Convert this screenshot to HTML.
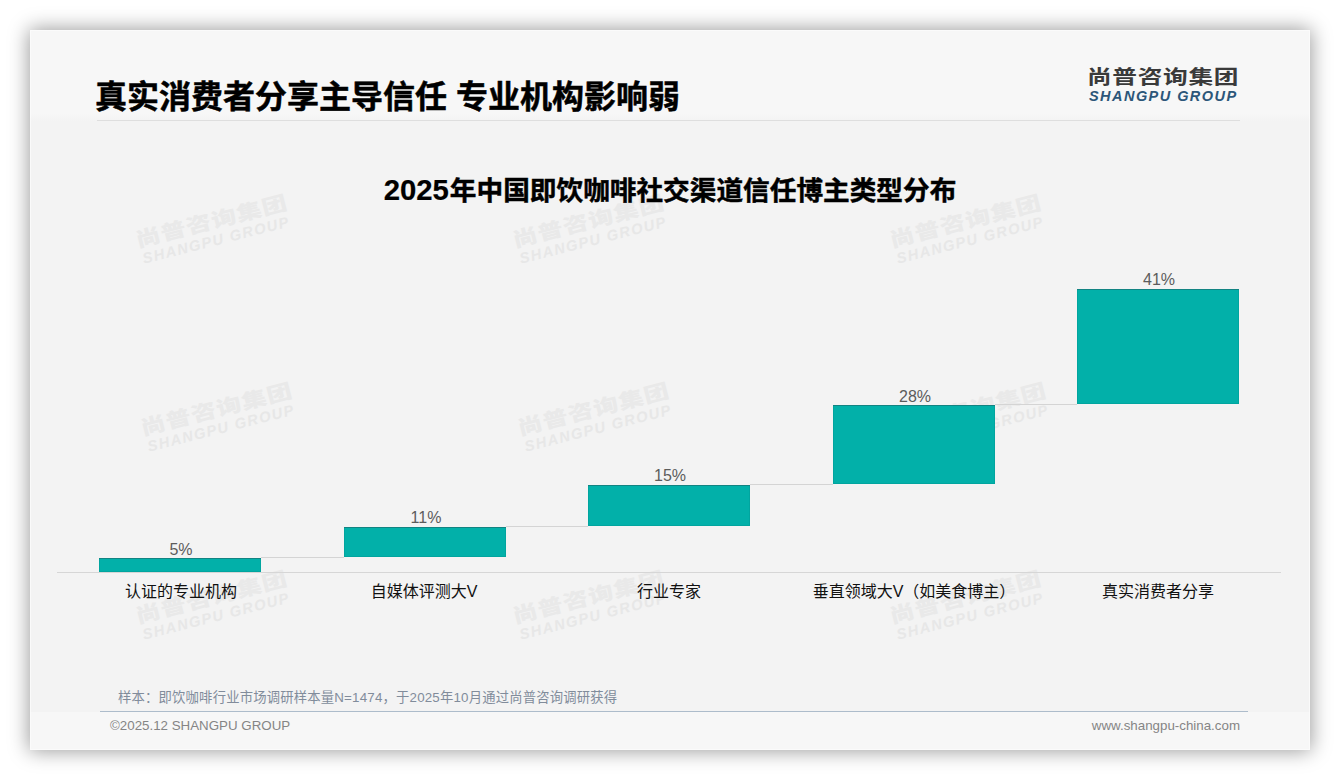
<!DOCTYPE html>
<html lang="zh-CN">
<head>
<meta charset="utf-8">
<title>真实消费者分享主导信任 专业机构影响弱</title>
<style>
*{margin:0;padding:0;box-sizing:border-box}
html,body{width:1340px;height:780px;background:#fff;overflow:hidden}
body{position:relative;font-family:"Liberation Sans","Noto Sans CJK SC",sans-serif;color:#000}
.card{position:absolute;left:30px;top:30px;width:1280px;height:720px;background:#f3f3f3;box-shadow:0 0 19px 1px rgba(0,0,0,.40)}
.clip:after{content:"";position:absolute;left:0;top:0;right:0;bottom:0;border:1px solid rgba(255,255,255,.55);pointer-events:none}
.clip{position:absolute;left:0;top:0;width:1280px;height:720px;overflow:hidden}
.hdr{position:absolute;left:0;top:0;width:1280px;height:92px;background:linear-gradient(#f7f7f7 0,#f7f7f7 84px,#f3f3f3 92px)}
.ftr{position:absolute;left:0;top:682px;width:1280px;height:38px;background:#f7f7f7}
.abs{position:absolute;white-space:nowrap}
.title{left:65px;top:43px;font-size:32px;line-height:48px;font-weight:700;-webkit-text-stroke:.5px #000}
.hrule{left:67px;top:90px;width:1143px;height:1px;background:#dedede}
.logo1{left:1057px;top:33px;font-size:19.6px;line-height:28px;font-weight:700;color:#3a3a3a;letter-spacing:.54px;transform:scaleX(1.26);transform-origin:0 50%}
.logo2{left:1059px;top:56px;font-size:14.5px;line-height:20px;font-weight:700;font-style:italic;color:#2c5679;letter-spacing:1.45px}
.ctitle{left:0;width:1280px;text-align:center;top:140.5px;font-size:26.67px;line-height:40px;font-weight:700;-webkit-text-stroke:.45px #000}
.ctitle span{font-size:29.3px;line-height:20px;margin-right:1px;-webkit-text-stroke:.2px #000}
.bar{position:absolute;background:#02b0a9;box-shadow:inset 0 1px 0 rgba(40,90,95,.45),inset 0 0 0 1px rgba(0,90,90,.12)}
.conn{position:absolute;height:1px;background:#d4d4d4}
.axis{position:absolute;left:27px;top:542px;width:1224px;height:1px;background:#d6d6d6}
.val{position:absolute;width:162px;text-align:center;font-size:16px;line-height:20px;color:#5c5c5c}
.cat{position:absolute;width:244px;text-align:center;font-size:16px;line-height:24px;color:#111}
.note{left:88px;top:657.5px;letter-spacing:.19px;font-size:13.33px;line-height:20px;color:#818c9b}
.fline{left:70px;top:681px;width:1148px;height:1px;background:#adbccb}
.fl{left:80px;top:686px;font-size:13.33px;line-height:20px;color:#858585}
.fr{right:70px;top:686px;font-size:13.33px;line-height:20px;color:#858585}
.wm{position:absolute;width:150px;height:36px;margin:-17px 0 0 -74px;transform:rotate(-14.3deg) scale(1.02);white-space:nowrap;font-weight:700}
.wm b{position:absolute;left:-2px;top:-4px;font-size:19.6px;line-height:28px;letter-spacing:.64px;color:#e9e9e9;transform:scaleX(1.26);transform-origin:0 50%}
.wm i{position:absolute;left:0;top:19px;font-size:14.5px;line-height:20px;letter-spacing:1.45px;color:#e7e7e7}
</style>
</head>
<body>
<div class="card"><div class="clip">
  <div class="hdr"></div>
  <div class="ftr"></div>


  <div class="wm" style="left:183.3px;top:197.9px"><b>尚普咨询集团</b><i>SHANGPU GROUP</i></div>
  <div class="wm" style="left:560.1px;top:197.9px"><b>尚普咨询集团</b><i>SHANGPU GROUP</i></div>
  <div class="wm" style="left:936.9px;top:197.9px"><b>尚普咨询集团</b><i>SHANGPU GROUP</i></div>
  <div class="wm" style="left:188.2px;top:385.7px"><b>尚普咨询集团</b><i>SHANGPU GROUP</i></div>
  <div class="wm" style="left:565.0px;top:385.7px"><b>尚普咨询集团</b><i>SHANGPU GROUP</i></div>
  <div class="wm" style="left:941.8px;top:385.7px"><b>尚普咨询集团</b><i>SHANGPU GROUP</i></div>
  <div class="wm" style="left:183.4px;top:574.1px"><b>尚普咨询集团</b><i>SHANGPU GROUP</i></div>
  <div class="wm" style="left:560.2px;top:574.1px"><b>尚普咨询集团</b><i>SHANGPU GROUP</i></div>
  <div class="wm" style="left:937.0px;top:574.1px"><b>尚普咨询集团</b><i>SHANGPU GROUP</i></div>

  <div class="abs title">真实消费者分享主导信任 专业机构影响弱</div>
  <div class="abs hrule"></div>
  <div class="abs logo1">尚普咨询集团</div>
  <div class="abs logo2">SHANGPU GROUP</div>

  <div class="abs ctitle"><span>2025</span>年中国即饮咖啡社交渠道信任博主类型分布</div>

  <div class="axis"></div>
  <div class="conn" style="left:231px;top:527px;width:83px"></div>
  <div class="conn" style="left:476px;top:496px;width:82px"></div>
  <div class="conn" style="left:720px;top:454px;width:83px"></div>
  <div class="conn" style="left:965px;top:374px;width:82px"></div>

  <div class="bar" style="left:69px;top:528px;width:162px;height:14px"></div>
  <div class="bar" style="left:314px;top:497px;width:162px;height:30px"></div>
  <div class="bar" style="left:558px;top:455px;width:162px;height:41px"></div>
  <div class="bar" style="left:803px;top:375px;width:162px;height:79px"></div>
  <div class="bar" style="left:1047px;top:259px;width:162px;height:115px"></div>

  <div class="val" style="left:70px;top:510px">5%</div>
  <div class="val" style="left:315px;top:478px">11%</div>
  <div class="val" style="left:559px;top:436px">15%</div>
  <div class="val" style="left:804px;top:357px">28%</div>
  <div class="val" style="left:1048px;top:240px">41%</div>

  <div class="cat" style="left:29px;top:549.5px">认证的专业机构</div>
  <div class="cat" style="left:272px;top:549.5px">自媒体评测大V</div>
  <div class="cat" style="left:517px;top:549.5px">行业专家</div>
  <div class="cat" style="left:762px;top:549.5px">垂直领域大V（如美食博主）</div>
  <div class="cat" style="left:1006px;top:549.5px">真实消费者分享</div>

  <div class="abs note">样本：即饮咖啡行业市场调研样本量N=1474，于2025年10月通过尚普咨询调研获得</div>
  <div class="abs fline"></div>
  <div class="abs fl">©2025.12 SHANGPU GROUP</div>
  <div class="abs fr">www.shangpu-china.com</div>
</div></div>
</body>
</html>
